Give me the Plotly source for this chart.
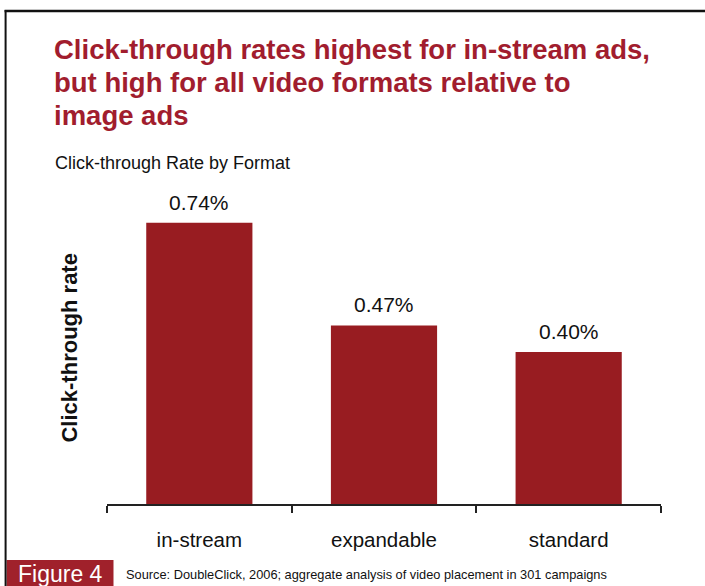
import plotly.graph_objects as go

# Chart data
formats = ["in-stream", "expandable", "standard"]
ctr_pct = [0.74, 0.47, 0.40]

title_lines = [
    "Click-through rates highest for in-stream ads,",
    "but high for all video formats relative to",
    "image ads",
]
subtitle = "Click-through Rate by Format"
y_title = "Click-through rate"
figure_tag = "Figure 4"
source_note = "Source: DoubleClick, 2006; aggregate analysis of video placement in 301 campaigns"

# Page geometry (pixels)
W, H = 705, 586
PL, PR, PT, PB = 106.5, 661, 190, 504
PX_PER_PCT = 380.0
TITLE_TOP, TITLE_LEADING = 32, 33

BAR_RED = "#981C21"
TITLE_RED = "#A11D2E"
TAG_RED = "#A0212B"
FONT = "Liberation Sans, Arial, Helvetica, sans-serif"


def px_x(px):
    return (px - PL) / (PR - PL)


def px_y(py):
    return (PB - py) / (PB - PT)


fig = go.Figure(
    go.Bar(
        x=formats,
        y=ctr_pct,
        marker=dict(color=BAR_RED, line=dict(width=0)),
        hoverinfo="skip",
    )
)

fig.update_layout(
    width=W,
    height=H,
    autosize=False,
    paper_bgcolor="white",
    plot_bgcolor="white",
    margin=dict(l=PL, r=W - PR, t=PT, b=H - PB, pad=0),
    bargap=0.425,
    showlegend=False,
    font=dict(family=FONT, color="#111111"),
)

fig.update_xaxes(
    type="category",
    range=[-0.5, 2.5],
    showline=True,
    linecolor="#222222",
    linewidth=1.5,
    ticks="outside",
    tickson="boundaries",
    ticklen=7,
    tickwidth=1.5,
    tickcolor="#222222",
    ticklabelstandoff=17,
    tickfont=dict(family=FONT, size=20.5, color="#111111"),
    showgrid=False,
    zeroline=False,
    automargin=False,
    fixedrange=True,
)

fig.update_yaxes(
    range=[0, (PB - PT) / PX_PER_PCT],
    showline=False,
    showticklabels=False,
    ticks="",
    showgrid=False,
    zeroline=False,
    automargin=False,
    fixedrange=True,
)

# value labels above each bar
annotations = [
    dict(
        text=f"{v:.2f}%", x=cat, y=v, xref="x", yref="y",
        xanchor="center", yanchor="bottom", yshift=7, showarrow=False,
        font=dict(family=FONT, size=21, color="#111111"),
    )
    for cat, v in zip(formats, ctr_pct)
]

# headline, one annotation per line for tighter leading
page_text = [
    dict(
        text="<b>" + line + "</b>",
        x=px_x(51), y=px_y(TITLE_TOP + i * TITLE_LEADING),
        xanchor="left", yanchor="top", align="left", showarrow=False,
        font=dict(family=FONT, size=27.5, color=TITLE_RED),
    )
    for i, line in enumerate(title_lines)
]

page_text += [
    dict(
        text=subtitle,
        x=px_x(52), y=px_y(175), xanchor="left", yanchor="bottom",
        align="left", showarrow=False,
        font=dict(family=FONT, size=18, color="#111111"),
    ),
    dict(
        text="<b>" + y_title + "</b>",
        x=px_x(68), y=px_y(348), xanchor="center", yanchor="middle",
        textangle=-90, showarrow=False,
        font=dict(family=FONT, size=22, color="#111111"),
    ),
    dict(
        text=figure_tag,
        x=px_x(59.5), y=px_y(574), xanchor="center", yanchor="middle",
        showarrow=False,
        font=dict(family=FONT, size=23, color="white"),
    ),
    dict(
        text=source_note,
        x=px_x(124), y=px_y(584), xanchor="left", yanchor="bottom",
        align="left", showarrow=False,
        font=dict(family=FONT, size=12.8, color="#111111"),
    ),
]
for a in page_text:
    a.update(xref="paper", yref="paper")
fig.update_layout(annotations=annotations + page_text)

shapes = [
    # page frame: top rule and left rule
    dict(type="line", x0=px_x(4), x1=px_x(706), y0=px_y(11), y1=px_y(11),
         line=dict(color="#111111", width=2.5)),
    dict(type="line", x0=px_x(5), x1=px_x(5), y0=px_y(10), y1=px_y(590),
         line=dict(color="#111111", width=2)),
    # figure tag box
    dict(type="rect", x0=px_x(6), x1=px_x(113), y0=px_y(560), y1=px_y(590),
         fillcolor=TAG_RED, line=dict(width=0), layer="below"),
]
for s in shapes:
    s.update(xref="paper", yref="paper")
fig.update_layout(shapes=shapes)

fig.write_html("out.html", config={"displayModeBar": False})
